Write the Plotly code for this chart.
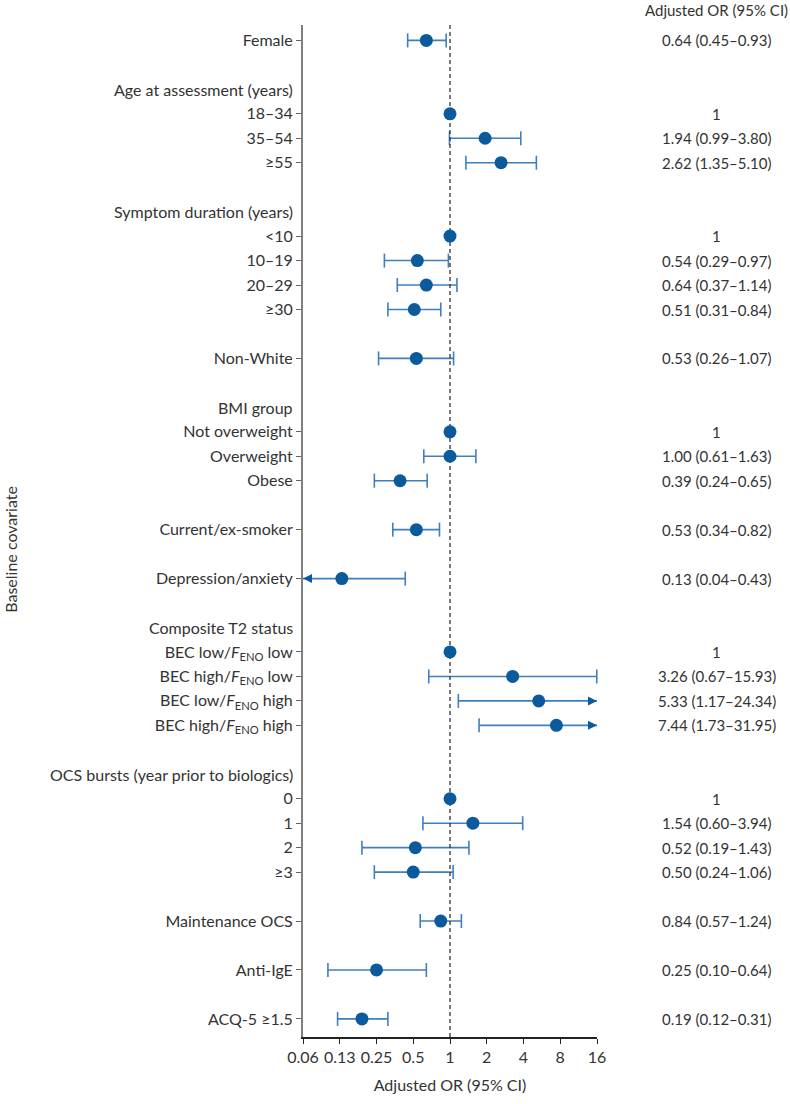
import numpy as np
import plotly.graph_objects as go

# ---- data ----
row_labels = [
    "Female", None, "Age at assessment (years)", "18–34", "35–54", "≥55", None,
    "Symptom duration (years)", "<10", "10–19", "20–29", "≥30", None,
    "Non-White", None, "BMI group", "Not overweight", "Overweight", "Obese", None,
    "Current/ex-smoker", None, "Depression/anxiety", None, "Composite T2 status",
    "BEC low/<i>F</i><sub>ENO</sub> low", "BEC high/<i>F</i><sub>ENO</sub> low",
    "BEC low/<i>F</i><sub>ENO</sub> high", "BEC high/<i>F</i><sub>ENO</sub> high", None,
    "OCS bursts (year prior to biologics)", "0", "1", "2", "≥3", None,
    "Maintenance OCS", None, "Anti-IgE", None, "ACQ-5 ≥1.5",
]
header_labels = ["Age at assessment (years)", "Symptom duration (years)", "BMI group",
                 "Composite T2 status", "OCS bursts (year prior to biologics)"]

odds_ratio = [0.64, 1, 1.94, 2.62, 1, 0.54, 0.64, 0.51, 0.53, 1, 1.00, 0.39, 0.53, 0.13,
              1, 3.26, 5.33, 7.44, 1, 1.54, 0.52, 0.50, 0.84, 0.25, 0.19]
ci_low = [0.45, None, 0.99, 1.35, None, 0.29, 0.37, 0.31, 0.26, None, 0.61, 0.24, 0.34, 0.04,
          None, 0.67, 1.17, 1.73, None, 0.60, 0.19, 0.24, 0.57, 0.10, 0.12]
ci_high = [0.93, None, 3.80, 5.10, None, 0.97, 1.14, 0.84, 1.07, None, 1.63, 0.65, 0.82, 0.43,
           None, 15.93, 24.34, 31.95, None, 3.94, 1.43, 1.06, 1.24, 0.64, 0.31]

tick_vals = [0.0625, 0.125, 0.25, 0.5, 1, 2, 4, 8, 16]
tick_text = ["0.06", "0.13", "0.25", "0.5", "1", "2", "4", "8", "16"]

# ---- style ----
FONT = "Lato"
FS = 16
FS_NUM = 15
TXT = "#333333"
DOT = "#0b5a9c"
BAR = "#3f7fbf"
XMIN, XMAX = tick_vals[0], tick_vals[-1]

W, H = 790, 1104
PLOT_L, PLOT_T, PLOT_W, PLOT_H = 303, 25, 294, 1026

# row positions
item_rows, header_rows = [], []
for i, lab in enumerate(row_labels):
    if lab is None:
        continue
    if lab in header_labels:
        header_rows.append((i + 1, lab))
    else:
        item_rows.append((i + 1, lab))
item_y = [r for r, _ in item_rows]
item_lab = [l for _, l in item_rows]

fig = go.Figure()

# CI lines
lx, ly = [], []
cap_x, cap_y = [], []
ar_x, ar_y = [], []
al_x, al_y = [], []
for y, lo, hi in zip(item_y, ci_low, ci_high):
    if lo is None:
        continue
    lo_d, hi_d = max(lo, XMIN), min(hi, XMAX)
    lx += [lo_d, hi_d, None]
    ly += [y, y, None]
    if lo >= XMIN:
        cap_x.append(lo); cap_y.append(y)
    else:
        al_x.append(XMIN); al_y.append(y)
    if hi <= XMAX:
        cap_x.append(hi); cap_y.append(y)
    else:
        ar_x.append(XMAX); ar_y.append(y)

fig.add_trace(go.Scatter(x=lx, y=ly, mode="lines", line=dict(color=BAR, width=1.6),
                         hoverinfo="skip", showlegend=False, cliponaxis=False))
fig.add_trace(go.Scatter(x=cap_x, y=cap_y, mode="markers",
                         marker=dict(symbol="line-ns", size=10, line=dict(color=BAR, width=1.6)),
                         hoverinfo="skip", showlegend=False, cliponaxis=False))
fig.add_trace(go.Scatter(x=ar_x, y=ar_y, mode="markers",
                         marker=dict(symbol="arrow-right", size=9, color=DOT, line=dict(width=0)),
                         hoverinfo="skip", showlegend=False, cliponaxis=False))
fig.add_trace(go.Scatter(x=al_x, y=al_y, mode="markers",
                         marker=dict(symbol="arrow-left", size=9, color=DOT, line=dict(width=0)),
                         hoverinfo="skip", showlegend=False, cliponaxis=False))

# reference line at OR = 1
y_top, y_bot = 0.37, 41.74
fig.add_trace(go.Scatter(x=[1, 1], y=[y_top, y_bot], mode="lines",
                         line=dict(color="#333333", width=1.3, dash="4px,3px"),
                         hoverinfo="skip", showlegend=False))

# point estimates
fig.add_trace(go.Scatter(x=odds_ratio, y=item_y, mode="markers",
                         marker=dict(color=DOT, size=13, line=dict(width=0)),
                         showlegend=False, cliponaxis=False))

ann = []
# headers
for y, lab in header_rows:
    ann.append(dict(x=0, xref="paper", y=y, yref="y", text=lab, showarrow=False,
                    xanchor="right", yanchor="middle", xshift=-8,
                    font=dict(family=FONT, size=FS, color=TXT)))
# OR text column
x_col = (716.5 - PLOT_L) / PLOT_W
for y, o, lo, hi in zip(item_y, odds_ratio, ci_low, ci_high):
    t = "1" if lo is None else f"{o:.2f} ({lo:.2f}–{hi:.2f})"
    ann.append(dict(x=x_col, xref="paper", y=y, yref="y", text=t, showarrow=False,
                    xanchor="center", yanchor="middle",
                    font=dict(family=FONT, size=FS_NUM, color=TXT)))
ann.append(dict(x=x_col, xref="paper", y=1 + (PLOT_T - 10) / PLOT_H, yref="paper",
                text="Adjusted OR (95% CI)", showarrow=False, xanchor="center", yanchor="middle",
                font=dict(family=FONT, size=FS_NUM, color=TXT)))
# y title
ann.append(dict(x=(11 - PLOT_L) / PLOT_W, xref="paper",
                y=(PLOT_T + PLOT_H - 557) / PLOT_H, yref="paper",
                text="Baseline covariate", textangle=-90, showarrow=False,
                xanchor="center", yanchor="middle",
                font=dict(family=FONT, size=FS, color=TXT)))

fig.update_layout(
    width=W, height=H,
    margin=dict(l=PLOT_L, r=W - PLOT_L - PLOT_W, t=PLOT_T, b=H - PLOT_T - PLOT_H),
    paper_bgcolor="white", plot_bgcolor="white",
    font=dict(family=FONT, size=FS, color=TXT),
    annotations=ann,
    showlegend=False,
)
fig.update_xaxes(type="log", range=[np.log10(XMIN), np.log10(XMAX)],
                 tickvals=tick_vals, ticktext=tick_text, ticks="outside", ticklen=5,
                 tickcolor="#222222", showline=True, linecolor="#222222", linewidth=1.5,
                 showgrid=False, zeroline=False,
                 tickfont=dict(family=FONT, size=FS, color=TXT),
                 title=dict(text="Adjusted OR (95% CI)", standoff=15,
                            font=dict(family=FONT, size=FS, color=TXT)))
fig.update_yaxes(range=[y_bot, y_top], tickvals=item_y, ticktext=item_lab,
                 ticks="outside", ticklen=5, tickcolor="#666666",
                 showline=True, linecolor="#7f7f7f", linewidth=2,
                 showgrid=False, zeroline=False)

fig.write_html("out.html", config={"displayModeBar": False},
               post_script="document.body.style.margin='0';document.body.style.padding='0';")
